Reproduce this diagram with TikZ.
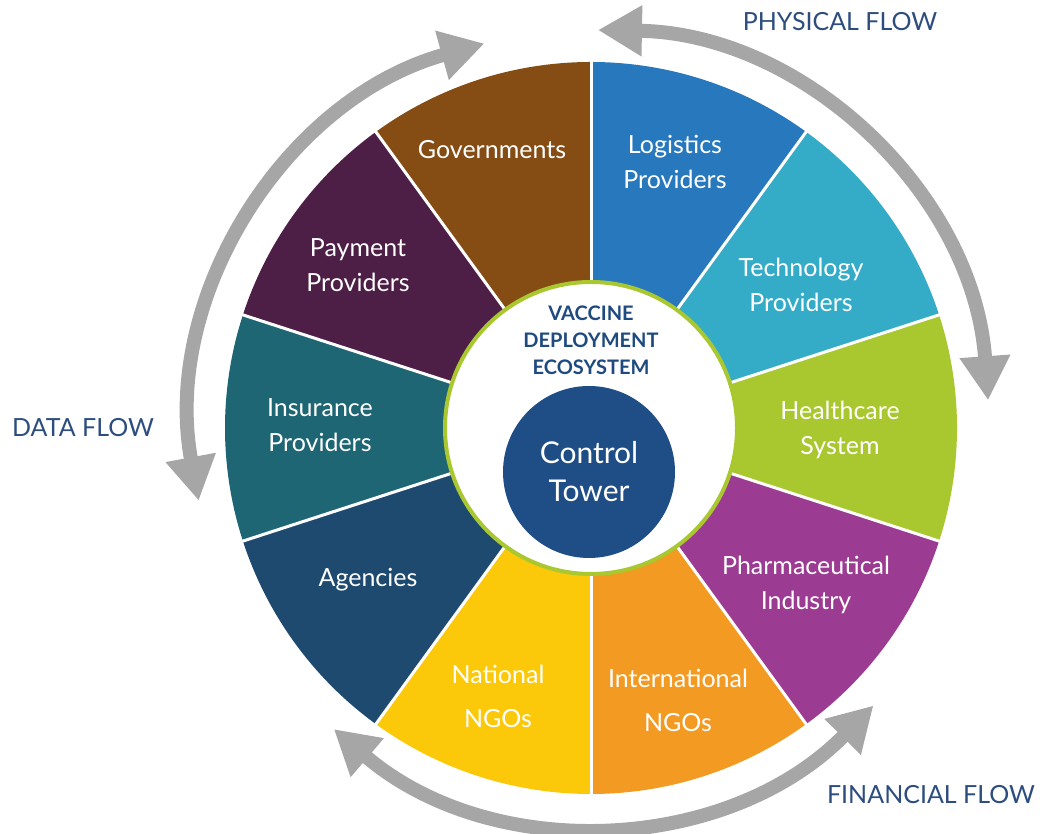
\documentclass[tikz,border=0pt]{standalone}
\usepackage{fontspec}
\setmainfont{Lato}
\usetikzlibrary{arrows.meta}

% segment colours
\definecolor{cGov}{RGB}{133,77,20}
\definecolor{cLog}{RGB}{40,120,190}
\definecolor{cTech}{RGB}{52,172,200}
\definecolor{cHealth}{RGB}{169,199,47}
\definecolor{cPharma}{RGB}{155,59,146}
\definecolor{cIntl}{RGB}{243,154,34}
\definecolor{cNat}{RGB}{252,200,10}
\definecolor{cAgency}{RGB}{31,74,112}
\definecolor{cIns}{RGB}{31,102,116}
\definecolor{cPay}{RGB}{77,31,71}
% other colours
\definecolor{cTower}{RGB}{31,78,134}
\definecolor{cTitle}{RGB}{30,74,128}
\definecolor{cFlow}{RGB}{45,77,127}
\definecolor{cArrow}{RGB}{166,166,166}

\tikzset{
  seglabel/.style={text=white, font=\fontsize{25}{35}\selectfont, align=center},
  widelabel/.style={seglabel, font=\fontsize{25}{44}\selectfont},
  flowlabel/.style={text=cFlow, font=\fontsize{25}{30}\selectfont},
  flowarrow/.style={draw=cArrow, line width=14pt,
    {Triangle[width=48pt,length=44pt]}-{Triangle[width=48pt,length=44pt]}},
  divider/.style={draw=white, line width=3pt},
}

\begin{document}
\begin{tikzpicture}[x=1pt,y=1pt]
\useasboundingbox (0,0) rectangle (1048,834);
\coordinate (C) at (591,406);

% wheel segments, each 36 degrees wide
\foreach \a/\col in {54/cLog, 90/cGov, 126/cPay, 162/cIns, 198/cAgency,
                     234/cNat, 270/cIntl, 306/cPharma, 342/cHealth, 18/cTech}{
  \fill[\col] (C) -- ([shift={(\a:366pt)}]C)
     arc[start angle=\a, end angle=\a+36, radius=366pt] -- cycle;
}
% white dividers between segments
\foreach \a in {18,54,...,342}{
  \draw[divider] (C) -- ([shift={(\a:367pt)}]C);
}

% central disc
\draw[fill=white, draw=cHealth, line width=4pt] (C) circle[radius=146pt];
\node[circle, fill=cTower, minimum size=172pt, inner sep=0pt,
      text=white, align=center, font=\fontsize{30}{38}\selectfont]
      (tower) at (589,362) {Control\\Tower};
\node[text=cTitle, align=center, font=\bfseries\fontsize{20}{27}\selectfont]
      (eco) at (591,494) {VACCINE\\DEPLOYMENT\\ECOSYSTEM};

% segment labels
\node[seglabel] (gov)    at (492,684) {Governments};
\node[seglabel] (log)    at (675,672) {Logistics\\Providers};
\node[seglabel] (tech)   at (801,549) {Technology\\Providers};
\node[seglabel] (health) at (840,404) {Healthcare\\System};
\node[seglabel] (pharma) at (806,249) {Pharmaceutical\\Industry};
\node[widelabel] (intl)  at (678,134) {International\\NGOs};
\node[widelabel] (nat)   at (498,138) {National\\NGOs};
\node[seglabel] (agency) at (368,254) {Agencies};
\node[seglabel] (ins)    at (320,409) {Insurance\\Providers};
\node[seglabel] (pay)    at (358,569) {Payment\\Providers};

% flow arrows around the wheel
\draw[flowarrow] ([shift={(190.5:399pt)}]C) arc[start angle=190.5, end angle=105.5, radius=399pt];
\draw[flowarrow] ([shift={(89:398pt)}]C) arc[start angle=89, end angle=4, radius=398pt];
\draw[flowarrow] ([shift={(229.5:396pt)}]C) arc[start angle=229.5, end angle=315.5, radius=396pt];

% flow labels
\node[flowlabel] (physical)  at (840,812) {PHYSICAL FLOW};
\node[flowlabel] (data)      at (83,406)  {DATA FLOW};
\node[flowlabel] (financial) at (931,39)  {FINANCIAL FLOW};
\end{tikzpicture}
\end{document}
